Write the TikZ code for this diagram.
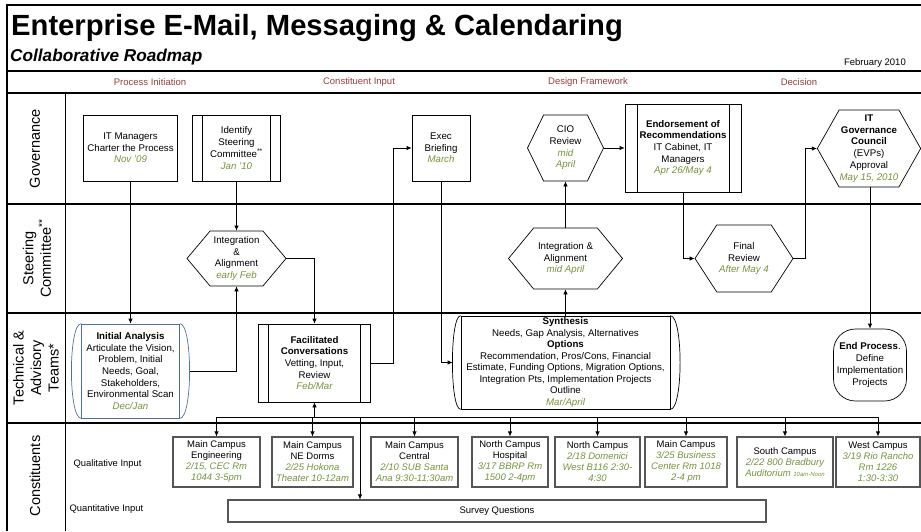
\documentclass[tikz,border=0pt]{standalone}
\usepackage{fontspec}
\setmainfont{Liberation Sans}
\usepackage{tikz}
\usetikzlibrary{shapes.symbols, arrows.meta}
\definecolor{PhaseRed}{RGB}{145,62,62}
\definecolor{DateGreen}{RGB}{118,146,60}
\definecolor{IABlue}{RGB}{79,110,168}
\definecolor{SrcGray}{RGB}{85,85,85}
\newcommand{\datetxt}[1]{{\color{DateGreen}\itshape #1}}

\begin{document}
\begin{tikzpicture}[x=1pt, y=-1pt,
    lane/.style={line width=1.1pt},
    lanelbl/.style={rotate=90, align=center, font=\fontsize{14.5}{17.5}\selectfont},
    phase/.style={text=PhaseRed, font=\fontsize{9.5}{11}\selectfont},
    box/.style={rectangle, draw, line width=0.7pt, align=center, inner sep=1pt,
                font=\fontsize{9.7}{11.7}\selectfont},
    procbox/.style={box, path picture={
        \draw[line width=0.7pt]
          ([xshift=#1]path picture bounding box.north west) --
          ([xshift=#1]path picture bounding box.south west)
          ([xshift=-#1]path picture bounding box.north east) --
          ([xshift=-#1]path picture bounding box.south east);}},
    procbox/.default=10pt,
    hexa/.style={signal, signal to=east and west, signal pointer angle=#1,
                 draw, line width=0.7pt, align=center, inner sep=0.5pt,
                 font=\fontsize{9.7}{11.7}\selectfont},
    hexa/.default=110,
    src/.style={rectangle, draw=SrcGray, line width=1.2pt, align=center,
                inner sep=1pt, minimum height=50pt,
                font=\fontsize{9.5}{11}\selectfont},
    wire/.style={line width=0.7pt},
    arr/.style={wire, -{Latex[length=5pt,width=4.5pt]}}
  ]
  \useasboundingbox (0,0) rectangle (921,531);

  % Frame and lane grid
  \draw[lane] (921,5) -- (7,5) -- (7,531);
  \foreach \y in {71,93,204,313,423}
    \draw[lane] (7,\y) -- (921,\y);
  \draw[line width=0.8pt] (65,93) -- (65,531);

  % Title band
  \node[anchor=base west, inner sep=0pt, font=\fontsize{29.2}{31}\selectfont\bfseries]
        (title) at (11,35.5) {Enterprise E-Mail, Messaging \& Calendaring};
  \node[anchor=base west, inner sep=0pt, font=\fontsize{17.2}{19}\selectfont\bfseries\itshape]
        (subtitle) at (10,61) {Collaborative Roadmap};
  \node[anchor=base east, inner sep=0pt, font=\fontsize{9.5}{11}\selectfont]
        (issued) at (906,65.5) {February 2010};

  % Phase row
  \node[phase] (ph1) at (150,82) {Process Initiation};
  \node[phase] (ph2) at (359,82) {Constituent Input};
  \node[phase] (ph3) at (588,82) {Design Framework};
  \node[phase] (ph4) at (799,82) {Decision};

  % Lane labels
  \node[lanelbl] (lgov)   at (35,148.5) {Governance};
  \node[lanelbl] (lsteer) at (37,258.5) {Steering\\Committee\textsuperscript{**}};
  \node[lanelbl] (ltech)  at (36,368)   {Technical \&\\Advisory\\Teams*};
  \node[lanelbl] (lcons)  at (35,476)   {Constituents};

  % Governance
  \node[box, minimum width=94pt, minimum height=66pt] (charter) at (130.5,148)
        {IT Managers\\Charter the Process\\\datetxt{Nov '09}};
  \node[procbox, minimum width=88pt, minimum height=66pt] (steerid) at (236.5,148)
        {Identify\\Steering\\Committee\textsuperscript{**}\\\datetxt{Jan '10}};
  \node[box, minimum width=58pt, minimum height=66pt] (exec) at (441,148)
        {Exec\\Briefing\\\datetxt{March}};
  \node[hexa=128, minimum width=76pt, minimum height=66pt] (cio) at (565.5,148)
        {CIO\\Review\\\datetxt{mid}\\\datetxt{April}};
  \node[procbox=12pt, minimum width=116pt, minimum height=88pt] (endorse) at (683,148)
        {\textbf{Endorsement of}\\\textbf{Recommendations}\\IT Cabinet, IT\\Managers\\\datetxt{Apr 26/May 4}};
  \node[hexa=121, minimum width=101pt, minimum height=77pt] (itgov) at (869,148.5)
        {\textbf{IT}\\\textbf{Governance}\\\textbf{Council}\\(EVPs)\\Approval\\\datetxt{May 15, 2010}};

  % Steering Committee
  \node[hexa=100, minimum width=99pt, minimum height=55pt] (integ1) at (236.5,258.5)
        {Integration\\\&\\Alignment\\\datetxt{early Feb}};
  \node[hexa=101, minimum width=114pt, minimum height=61pt] (integ2) at (565.5,258.5)
        {Integration \&\\Alignment\\\datetxt{mid April}};
  \node[hexa=114, minimum width=98pt, minimum height=67pt] (final) at (744,258.5)
        {Final\\Review\\\datetxt{After May 4}};

  % Technical & Advisory Teams
  \node[box, draw=IABlue, minimum width=98pt, minimum height=94pt] (initial) at (130.5,371)
        {\textbf{Initial Analysis}\\Articulate the Vision,\\Problem, Initial\\Needs, Goal,\\Stakeholders,\\Environmental Scan\\\datetxt{Dec/Jan}};
  \draw[IABlue, line width=0.7pt]
        (initial.north west) .. controls +(-13,0) and +(-13,0) .. (initial.south west)
        (initial.north east) .. controls +(13,0) and +(13,0) .. (initial.south east);
  \node[procbox, minimum width=112pt, minimum height=78pt] (facil) at (314.5,363)
        {\textbf{Facilitated}\\\textbf{Conversations}\\Vetting, Input,\\Review\\\datetxt{Feb/Mar}};
  \node[box, minimum width=209pt, minimum height=93pt,
        font=\fontsize{9.7}{11.5}\selectfont] (synth) at (565.5,362.5)
        {\textbf{Synthesis}\\Needs, Gap Analysis, Alternatives\\\textbf{Options}\\
         Recommendation, Pros/Cons, Financial\\Estimate, Funding Options, Migration Options,\\
         Integration Pts, Implementation Projects\\Outline\\\datetxt{Mar/April}};
  \draw[wire]
        (synth.north west) .. controls +(-11,0) and +(-11,0) .. (synth.south west)
        (synth.north east) .. controls +(13,0) and +(13,0) .. (synth.south east);
  \node[box, rounded corners=22pt, minimum width=73pt, minimum height=72pt] (endp) at (870,365)
        {\textbf{End Process}.\\Define\\Implementation\\Projects};

  % Constituents
  \node[anchor=west, font=\fontsize{9.4}{11}\selectfont] (qual) at (70,464) {Qualitative Input};
  \node[anchor=west, font=\fontsize{9.4}{11}\selectfont] (quant) at (66,509) {Quantitative Input};
  \node[src, minimum width=87pt] (qEng) at (216.5,462)
        {Main Campus\\Engineering\\\datetxt{2/15, CEC Rm}\\\datetxt{1044 3-5pm}};
  \node[src, minimum width=81pt] (qDorms) at (312.5,462)
        {Main Campus\\NE Dorms\\\datetxt{2/25 Hokona}\\\datetxt{Theater 10-12am}};
  \node[src, minimum width=87pt] (qCentral) at (414.5,462)
        {Main Campus\\Central\\\datetxt{2/10 SUB Santa}\\\datetxt{Ana 9:30-11:30am}};
  \node[src, minimum width=76pt] (qHosp) at (510,462)
        {North Campus\\Hospital\\\datetxt{3/17 BBRP Rm}\\\datetxt{1500 2-4pm}};
  \node[src, minimum width=85pt] (qNorth) at (597.5,462)
        {North Campus\\\datetxt{2/18 Domenici}\\\datetxt{West B116 2:30-}\\\datetxt{4:30}};
  \node[src, minimum width=82pt] (qBiz) at (686,462)
        {Main Campus\\\datetxt{3/25 Business}\\\datetxt{Center Rm 1018}\\\datetxt{2-4 pm}};
  \node[src, minimum width=96pt] (qSouth) at (785,462)
        {South Campus\\\datetxt{2/22 800 Bradbury}\\\datetxt{Auditorium {\fontsize{6}{7}\selectfont 10am-Noon}}};
  \node[src, minimum width=84pt] (qWest) at (878,462)
        {West Campus\\\datetxt{3/19 Rio Rancho}\\\datetxt{Rm 1226}\\\datetxt{1:30-3:30}};
  \node[src, minimum width=538pt, minimum height=22pt] (survey) at (497,511) {Survey Questions};

  % Connectors
  \draw[arr] (charter.south) -- (initial.north);
  \draw[arr] (steerid.south) -- (integ1.north);
  \draw[arr] ([xshift=10pt]initial.east) -| (integ1.south);
  \draw[arr] (integ1.east) -| (facil.north);
  \draw[arr] (facil.east) -- ++(22,0) |- (exec.west);
  \draw[arr] (exec.south) |- ([xshift=-8pt]synth.west);
  \draw[arr] (synth.north) -- (integ2.south);
  \draw[arr] (integ2.north) -- (cio.south);
  \draw[arr] (cio.east) -- (endorse.west);
  \draw[arr] (endorse.south) |- (final.west);
  \draw[arr] (final.east) -- ++(12,0) |- (itgov.west);
  \draw[arr] (itgov.south -| endp.north) -- (endp.north);

  % Constituent bus
  \coordinate (busL) at (216.5,417);
  \coordinate (busR) at (878,417);
  \coordinate (svtap) at (360,417);
  \draw[wire] (busL) -- (busR);
  \draw[arr] (facil.south |- busL) -- (facil.south);
  \foreach \n in {qEng,qDorms,qCentral,qHosp,qNorth,qBiz,qSouth,qWest}
    \draw[arr] (\n.north |- busL) -- (\n.north);
  \draw[arr] (svtap) -- (svtap |- survey.north);
\end{tikzpicture}
\end{document}
